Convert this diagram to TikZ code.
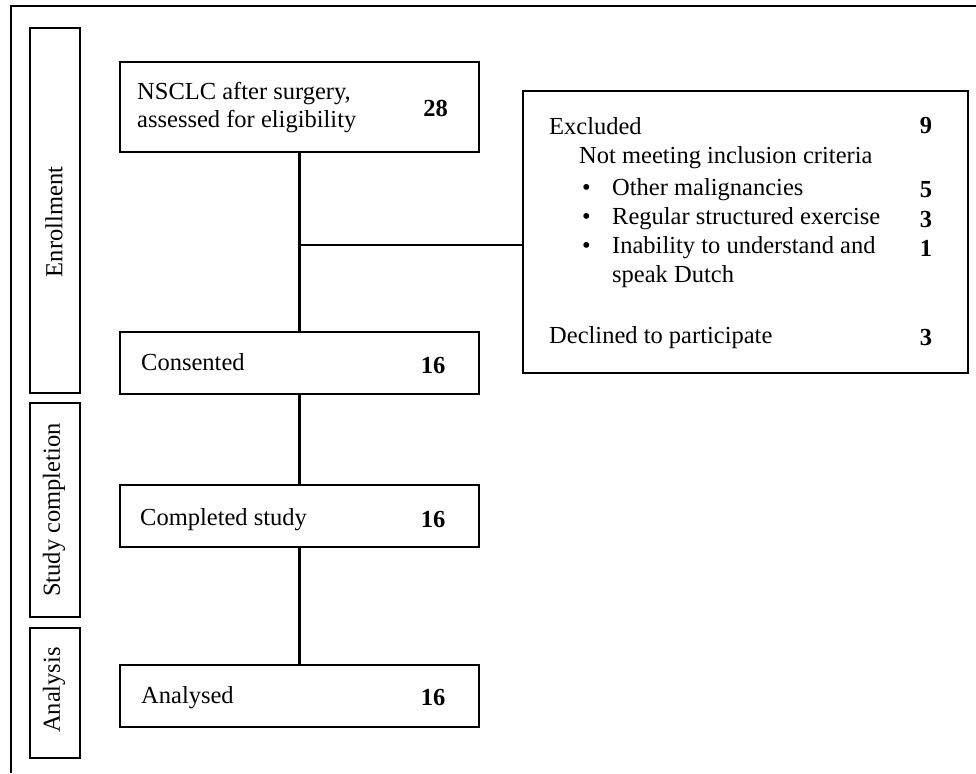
\documentclass[tikz,border=0pt]{standalone}
\usepackage{fontspec}
\setmainfont{Liberation Serif}
\begin{document}
\begin{tikzpicture}[x=1pt,y=-1pt,
  box/.style={draw, line width=2.7pt, inner sep=0pt, rectangle},
  txt/.style={anchor=base west, inner sep=0pt, font=\fontsize{24.5}{29}\selectfont},
  num/.style={anchor=base, inner sep=0pt, font=\fontsize{24.5}{29}\selectfont\bfseries},
  side/.style={rotate=90, inner sep=0pt, font=\fontsize{24.5}{29}\selectfont},
  conn/.style={line width=2.6pt}]
\useasboundingbox (0,0) rectangle (976,773);
\fill[white] (0,0) rectangle (976,773);
\draw[line width=1.8pt] (976,6) -- (11,6) -- (11,773);

% side boxes
\node[box, minimum width=50, minimum height=365] (enr) at (55,210.5) {};
\node[box, minimum width=50, minimum height=214] (stc) at (55,510) {};
\node[box, minimum width=50, minimum height=130] (ana) at (55,693) {};
\node[side] (enrl) at (54,222) {Enrollment};
\node[side] (stcl) at (54,510) {Study completion};
\node[side] (anal) at (54,690) {Analysis};

% main boxes
\node[box, minimum width=359, minimum height=90] (nsclc) at (299.5,107) {};
\node[box, minimum width=359, minimum height=62] (cons) at (299.5,363) {};
\node[box, minimum width=359, minimum height=62] (comp) at (299.5,516) {};
\node[box, minimum width=359, minimum height=62] (anl) at (299.5,696) {};
\node[box, minimum width=445, minimum height=282] (excl) at (745.5,232) {};

% texts in main boxes
\node[txt] (t1) at (137,100) {NSCLC after surgery,};
\node[txt] (t2) at (137,128) {assessed for eligibility};
\node[num] (n1) at (435.5,117) {28};
\node[txt] (t3) at (141,370) {Consented};
\node[num] (n2) at (433,373) {16};
\node[txt] (t4) at (140,525) {Completed study};
\node[num] (n3) at (433,527) {16};
\node[txt] (t5) at (141,703) {Analysed};
\node[num] (n4) at (433,705) {16};

% excluded box
\node[txt] (e1) at (549,134) {Excluded};
\node[num] (e1n) at (926,133) {9};
\node[txt] (e2) at (579,163) {Not meeting inclusion criteria};
\node[txt] (b1) at (582,195) {\textbullet};
\node[txt] (e3) at (612,195) {Other malignancies};
\node[num] (e3n) at (926,197) {5};
\node[txt] (b2) at (582,224) {\textbullet};
\node[txt] (e4) at (612,224) {Regular structured exercise};
\node[num] (e4n) at (926,227) {3};
\node[txt] (b3) at (582,253) {\textbullet};
\node[txt] (e5) at (612,253) {Inability to understand and};
\node[num] (e5n) at (926,256) {1};
\node[txt] (e6) at (612,282) {speak Dutch};
\node[txt] (e7) at (549,343) {Declined to participate};
\node[num] (e7n) at (926,345) {3};

% connectors
\draw[conn] (nsclc.south) -- (cons.north);
\draw[conn] (cons.south) -- (comp.north);
\draw[conn] (comp.south) -- (anl.north);
\coordinate (br) at (299.5,245);
\draw[conn] (br) -- (br -| excl.west);
\end{tikzpicture}
\end{document}
